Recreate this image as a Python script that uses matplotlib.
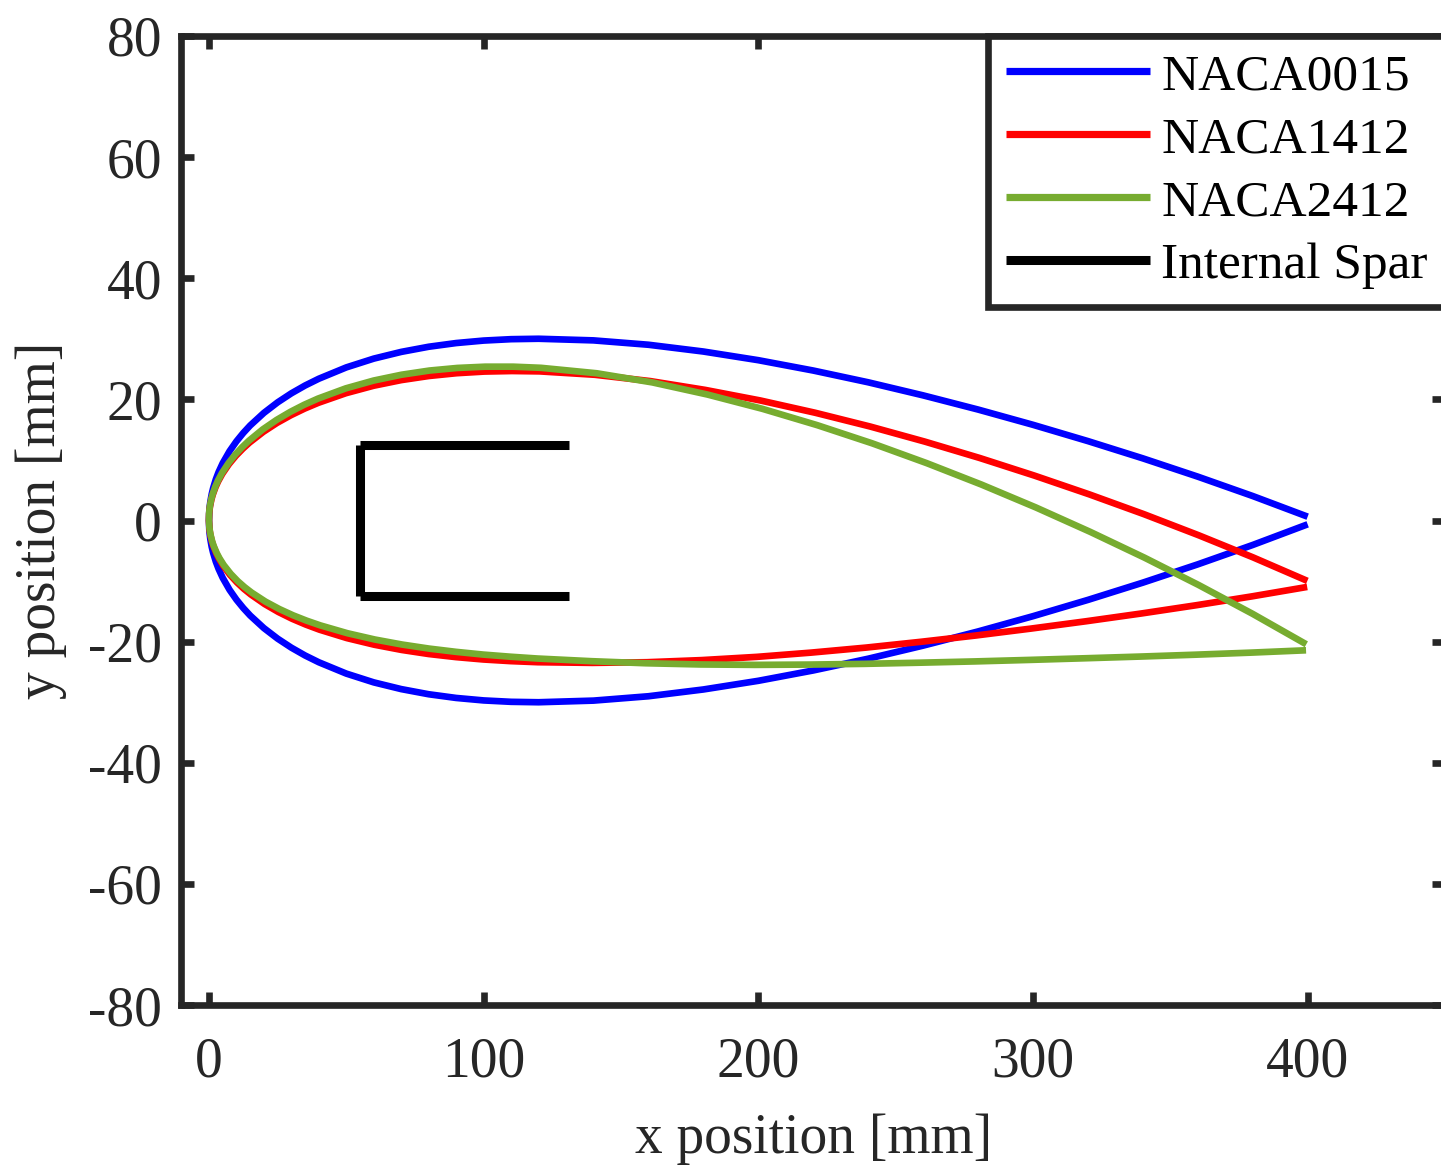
import matplotlib
matplotlib.use("Agg")
import matplotlib.pyplot as plt
from matplotlib.lines import Line2D

# ---- airfoil outlines, chord 400 mm (x, y in mm) ----
naca0015_x = [0, 0.1, 0.25, 0.5, 1, 1.5, 2.5, 3.5, 5, 7.5, 10, 12.5, 15, 20, 25,
              30, 35, 40, 50, 60, 70, 80, 90, 100, 110, 120, 140, 160, 180, 200,
              220, 240, 260, 280, 300, 320, 340, 360, 380, 400]
naca0015_upper = [0, 1.40, 2.20, 3.10, 4.36, 5.31, 6.80, 7.99, 9.47, 11.45,
                  13.07, 14.46, 15.69, 17.77, 19.51, 21.00, 22.29, 23.41, 25.28,
                  26.73, 27.84, 28.69, 29.30, 29.71, 29.94, 30.01, 29.74, 29.02,
                  27.90, 26.47, 24.76, 22.82, 20.66, 18.32, 15.80, 13.11, 10.26,
                  7.24, 4.04, 0.63]
naca0015_lower = [-v for v in naca0015_upper]

naca1412_xu = [0, 0.07, 0.21, 0.44, 0.92, 1.40, 2.38, 3.36, 4.84, 7.31, 9.79,
               12.28, 14.77, 19.77, 24.77, 29.78, 34.80, 39.82, 49.87, 59.94,
               70.00, 80.08, 90.15, 100.23, 110.31, 120.39, 140.53, 160.66,
               180.59, 200.71, 220.71, 240.69, 260.66, 280.61, 300.54, 320.46,
               340.35, 360.22, 380.07, 399.89]
naca1412_yu = [0, 1.12, 1.77, 2.49, 3.51, 4.28, 5.50, 6.47, 7.69, 9.33, 10.68,
               11.84, 12.87, 14.63, 16.11, 17.37, 18.47, 19.43, 21.02, 22.25,
               23.18, 23.86, 24.32, 24.59, 24.68, 24.62, 24.06, 23.02, 21.57,
               19.82, 17.79, 15.52, 13.02, 10.32, 7.41, 4.32, 1.05, -2.42,
               -6.08, -9.97]
naca1412_xl = [0, 0.13, 0.29, 0.56, 1.08, 1.60, 2.63, 3.65, 5.17, 7.70, 10.23,
               12.74, 15.25, 20.27, 25.27, 30.27, 35.26, 40.24, 50.20, 60.15,
               70.09, 80.02, 89.95, 99.88, 109.80, 119.73, 139.58, 159.44,
               179.40, 199.36, 219.34, 239.33, 259.34, 279.36, 299.39, 319.44,
               339.51, 359.60, 379.70, 399.83]
naca1412_yl = [0, -1.12, -1.75, -2.47, -3.47, -4.21, -5.38, -6.31, -7.46, -8.99,
               -10.24, -11.30, -12.22, -13.80, -15.11, -16.23, -17.19, -18.03,
               -19.42, -20.51, -21.37, -22.05, -22.56, -22.95, -23.22, -23.40,
               -23.51, -23.40, -23.05, -22.52, -21.81, -20.98, -20.02, -18.98,
               -17.84, -16.63, -15.35, -13.98, -12.53, -10.97]

naca2412_xu = [0, 0.05, 0.17, 0.38, 0.84, 1.31, 2.26, 3.22, 4.68, 7.13, 9.60,
               12.09, 14.57, 19.57, 24.59, 29.62, 34.66, 39.70, 49.82, 59.96,
               70.10, 80.26, 90.42, 100.58, 110.73, 120.89, 141.17, 161.42,
               181.46, 201.48, 221.46, 241.40, 261.31, 281.19, 301.02, 320.81,
               340.56, 360.26, 379.91, 399.50]
naca2412_yu = [0, 1.12, 1.77, 2.50, 3.53, 4.31, 5.55, 6.55, 7.80, 9.49, 10.90,
               12.11, 13.18, 15.04, 16.60, 17.94, 19.11, 20.13, 21.82, 23.11,
               24.07, 24.76, 25.19, 25.40, 25.40, 25.21, 24.31, 22.80, 20.80,
               18.44, 15.74, 12.75, 9.47, 5.94, 2.16, -1.87, -6.13, -10.64,
               -15.40, -20.44]
naca2412_xl = [0, 0.15, 0.33, 0.62, 1.17, 1.70, 2.76, 3.80, 5.36, 7.92, 10.47,
               13.01, 15.53, 20.57, 25.59, 30.59, 35.57, 40.55, 50.48, 60.39,
               70.28, 80.15, 90.01, 99.87, 109.72, 119.57, 139.27, 158.98,
               178.88, 198.79, 218.72, 238.68, 258.67, 278.68, 298.71, 318.78,
               338.88, 359.01, 379.18, 399.41]
naca2412_yl = [0, -1.11, -1.75, -2.45, -3.44, -4.17, -5.32, -6.22, -7.34, -8.81,
               -10.01, -11.02, -11.90, -13.39, -14.61, -15.65, -16.54, -17.32,
               -18.62, -19.65, -20.48, -21.15, -21.69, -22.14, -22.49, -22.79,
               -23.23, -23.57, -23.77, -23.84, -23.79, -23.67, -23.48, -23.27,
               -23.02, -22.75, -22.47, -22.16, -21.82, -21.43]

# internal C-shaped spar: web position, flange end, half height (mm)
spar_web_x = 55
spar_flange_end_x = 131
spar_half_height = 12.5

labels = ["NACA0015", "NACA1412", "NACA2412", "Internal Spar"]
colors = ["#0000ff", "#ff0000", "#77ac30", "#000000"]

AX_COLOR = "#262626"
plt.rcParams["font.family"] = ["Liberation Serif", "DejaVu Serif"]
plt.rcParams["axes.unicode_minus"] = False

fig = plt.figure(figsize=(14.41, 11.67), dpi=100)
W, H = 1441, 1167
left, right, top, bottom = 181.5, 1445, 36, 1005
ax = fig.add_axes([left / W, 1 - bottom / H, (right - left) / W, (bottom - top) / H])


def outline(xu, yu, xl, yl):
    # trailing edge (upper) -> leading edge -> trailing edge (lower)
    return list(xu[::-1]) + list(xl[1:]), list(yu[::-1]) + list(yl[1:])


lw = 4.8
for (xu, yu, xl, yl), col in zip(
        [(naca0015_x, naca0015_upper, naca0015_x, naca0015_lower),
         (naca1412_xu, naca1412_yu, naca1412_xl, naca1412_yl),
         (naca2412_xu, naca2412_yu, naca2412_xl, naca2412_yl)], colors[:3]):
    x, y = outline(xu, yu, xl, yl)
    ax.plot(x, y, color=col, lw=lw, solid_capstyle="butt", solid_joinstyle="round")

spar_lw = 6.5
ax.plot([spar_web_x, spar_web_x], [-spar_half_height, spar_half_height],
        color=colors[3], lw=spar_lw, solid_capstyle="butt")
ax.plot([spar_web_x, spar_flange_end_x], [spar_half_height, spar_half_height],
        color=colors[3], lw=spar_lw, solid_capstyle="butt")
ax.plot([spar_web_x, spar_flange_end_x], [-spar_half_height, -spar_half_height],
        color=colors[3], lw=spar_lw, solid_capstyle="butt")

ax.set_xlim(-10, 450)
ax.set_ylim(-80, 80)
ax.set_xticks([0, 100, 200, 300, 400])
ax.set_yticks(list(range(-80, 81, 20)))

for s in ax.spines.values():
    s.set_color(AX_COLOR)
    s.set_linewidth(4.8)
ax.tick_params(direction="in", length=9.5, width=4.8, color=AX_COLOR,
               labelcolor=AX_COLOR, labelsize=40, top=True, right=True)
ax.tick_params(axis="x", pad=23)
ax.tick_params(axis="y", pad=14)

ax.set_xlabel("x position [mm]", fontsize=40, color=AX_COLOR, labelpad=17)
ax.set_ylabel("y position [mm]", fontsize=40, color=AX_COLOR, labelpad=15)

handles = [Line2D([], [], color=colors[0], lw=5.2, solid_capstyle="butt"),
           Line2D([], [], color=colors[1], lw=5.2, solid_capstyle="butt"),
           Line2D([], [], color=colors[2], lw=5.2, solid_capstyle="butt"),
           Line2D([], [], color=colors[3], lw=6.5, solid_capstyle="butt")]
leg = ax.legend(handles, labels, loc="upper right", bbox_to_anchor=(1, 1),
                borderaxespad=0, fontsize=37, fancybox=False, framealpha=1,
                edgecolor=AX_COLOR, handlelength=2.8, handletextpad=0.22,
                borderpad=0.34, labelspacing=0.31)
leg.get_frame().set_linewidth(4.8)

fig.savefig("out.png", dpi=100)
